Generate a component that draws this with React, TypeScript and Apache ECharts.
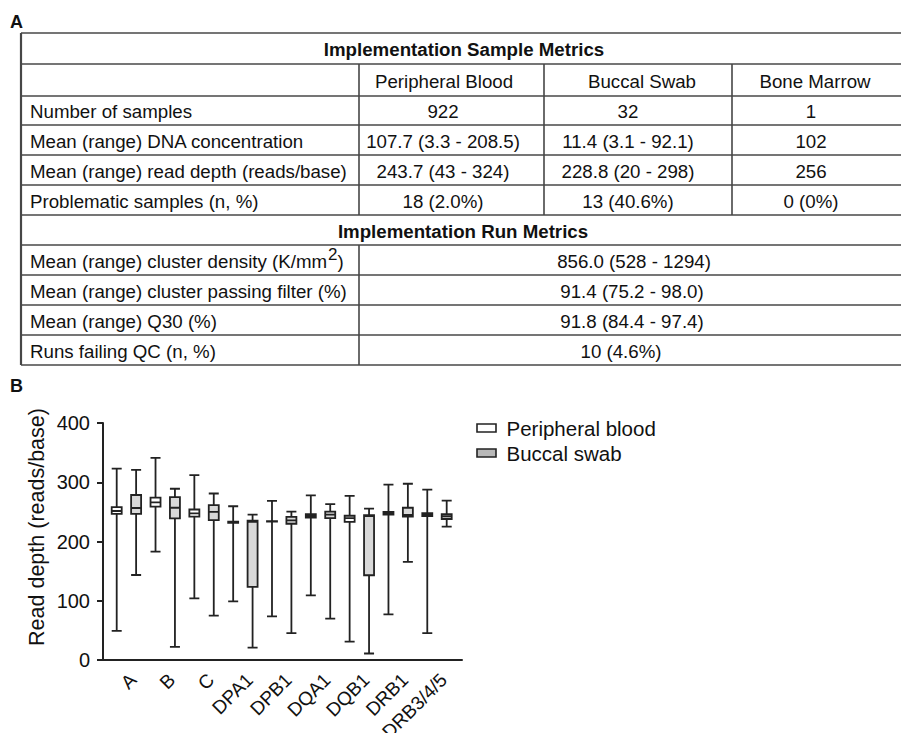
import React, { useEffect, useRef } from 'react';
import * as echarts from 'echarts';

// ---------- Data ----------
const genes = ['A', 'B', 'C', 'DPA1', 'DPB1', 'DQA1', 'DQB1', 'DRB1', 'DRB3/4/5'];
const seriesNames = ['Peripheral blood', 'Buccal swab'];
// [min, Q1, median, Q3, max]
const peripheralBlood = [
  [49, 246.5, 251.5, 258, 323],
  [183, 259, 266, 274, 341],
  [104, 242, 247.5, 254, 312],
  [99, 231.5, 232.5, 233.5, 259.5],
  [73.5, 233.5, 234, 234.5, 268.5],
  [109, 240.5, 243, 246, 278],
  [31, 233, 239.5, 243.5, 277],
  [77, 245.5, 247.5, 250, 296],
  [45.5, 243, 246, 248, 287.5],
];
const buccalSwab = [
  [143.5, 246.5, 256.5, 278.5, 321],
  [22, 239, 257, 275, 289],
  [75, 236, 250, 261.5, 281],
  [21, 123.5, 233, 235, 245.5],
  [45.5, 230, 235.5, 241.5, 250.5],
  [70, 239.5, 245.5, 250.5, 263],
  [11, 143, 243, 244.5, 255.5],
  [165.5, 242, 245, 257, 297.5],
  [225, 238, 242.5, 246, 269],
];
const yAxisTitle = 'Read depth (reads/base)';

// Table data
const sampleTitle = 'Implementation Sample Metrics';
const runTitle = 'Implementation Run Metrics';
const sampleColumns = ['Peripheral Blood', 'Buccal Swab', 'Bone Marrow'];
const sampleRowLabels = [
  'Number of samples',
  'Mean (range) DNA concentration',
  'Mean (range) read depth (reads/base)',
  'Problematic samples (n, %)',
];
const peripheralBloodValues = ['922', '107.7 (3.3 - 208.5)', '243.7 (43 - 324)', '18 (2.0%)'];
const buccalSwabValues = ['32', '11.4 (3.1 - 92.1)', '228.8 (20 - 298)', '13 (40.6%)'];
const boneMarrowValues = ['1', '102', '256', '0 (0%)'];
const runRowLabels = [
  'Mean (range) cluster density (K/mm',
  'Mean (range) cluster passing filter (%)',
  'Mean (range) Q30 (%)',
  'Runs failing QC (n, %)',
];
const runValues = ['856.0 (528 - 1294)', '91.4 (75.2 - 98.0)', '91.8 (84.4 - 97.4)', '10 (4.6%)'];

// ---------- Layout / style ----------
const FONT = '"Liberation Sans", Arial, Helvetica, sans-serif';
const INK = '#111111';
const LINE = '#474747';
const TFS = 18.7; // table font size
const rowLines = [33, 64, 96, 125, 155, 185, 215, 245, 275, 305, 335, 365];
const tableLeft = 21;
const tableRight = 901;
const col1 = 359;
const col2 = 544;
const col3 = 732;
const headerCenters = [444, 642, 815];
const valueCenters = [443, 628, 811];
const runValueCenters = [634, 632, 632, 621];

function measure(text: string, size: number) {
  const c = document.createElement('canvas').getContext('2d');
  if (!c) return text.length * size * 0.5;
  c.font = `${size}px "Liberation Sans", Arial, sans-serif`;
  return c.measureText(text).width;
}

function txt(x: number, y: number, text: string, o: any = {}) {
  const align = o.align ?? 'center';
  return {
    type: 'text',
    x,
    y,
    rotation: o.rotation ?? 0,
    silent: true,
    style: {
      text,
      fontSize: o.size ?? TFS,
      fontWeight: o.bold ? 'bold' : 'normal',
      fontFamily: FONT,
      fill: o.fill ?? INK,
      align,
      verticalAlign: 'middle',
      textAlign: align,
      textVerticalAlign: 'middle',
    },
  };
}
function line(x1: number, y1: number, x2: number, y2: number, w = 1.6) {
  return {
    type: 'line',
    silent: true,
    shape: { x1, y1, x2, y2 },
    style: { stroke: LINE, lineWidth: w },
  };
}

function buildGraphic() {
  const els: any[] = [];
  const mid = (i: number) => (rowLines[i] + rowLines[i + 1]) / 2 + 1;
  // Panel letters
  els.push(txt(10, 22, 'A', { align: 'left', bold: true, size: 18 }));
  els.push(txt(10, 386, 'B', { align: 'left', bold: true, size: 18 }));
  // Table grid lines
  rowLines.forEach((y) => els.push(line(tableLeft, y, tableRight, y)));
  els.push(line(tableLeft, rowLines[0], tableLeft, rowLines[rowLines.length - 1], 2.2));
  els.push(line(col1, rowLines[1], col1, rowLines[6]));
  els.push(line(col1, rowLines[7], col1, rowLines[11]));
  els.push(line(col2, rowLines[1], col2, rowLines[6]));
  els.push(line(col3, rowLines[1], col3, rowLines[6]));
  // Titles
  els.push(txt(464, mid(0), sampleTitle, { bold: true }));
  els.push(txt(463, mid(6), runTitle, { bold: true }));
  // Header
  sampleColumns.forEach((c, i) => els.push(txt(headerCenters[i], mid(1), c)));
  // Sample rows
  const cols = [peripheralBloodValues, buccalSwabValues, boneMarrowValues];
  sampleRowLabels.forEach((lab, r) => {
    els.push(txt(30, mid(2 + r), lab, { align: 'left' }));
    cols.forEach((vals, c) => els.push(txt(valueCenters[c], mid(2 + r), vals[r])));
  });
  // Run rows
  runRowLabels.forEach((lab, r) => {
    const y = mid(7 + r);
    els.push(txt(30, y, lab, { align: 'left' }));
    if (r === 0) {
      const w = measure(lab, TFS);
      const w2 = measure('2', 17);
      els.push(txt(30 + w + 1, y - 7, '2', { align: 'left', size: 17 }));
      els.push(txt(30 + w + 1 + w2, y, ')', { align: 'left' }));
    }
    els.push(txt(runValueCenters[r], y, runValues[r]));
  });
  // Y axis title
  els.push(txt(37, 527, yAxisTitle, { size: 21.5, rotation: Math.PI / 2 }));
  // Legend
  const legendFills = ['#ffffff', '#b8b8b8'];
  seriesNames.forEach((n, i) => {
    const y = 428 + i * 25;
    els.push({
      type: 'rect',
      silent: true,
      shape: { x: 477, y: y - 4, width: 19, height: 8 },
      style: { fill: legendFills[i], stroke: '#222', lineWidth: 1.6 },
    });
    els.push(txt(506.5, y, n, { align: 'left', size: 20.5 }));
  });
  return els;
}

function buildOption() {
  const slots = genes.flatMap((g) => [g + '|PB', g + '|BS']);
  const boxData = genes.flatMap((g, i) => [
    { name: g + '|PB', value: peripheralBlood[i], itemStyle: { color: '#ffffff' } },
    { name: g + '|BS', value: buccalSwab[i], itemStyle: { color: '#d9d9d9' } },
  ]);
  const plotTop = 423;
  const plotH = 237;
  const gridBase = { top: plotTop, height: plotH, containLabel: false, outerBoundsMode: 'none' };
  return {
    animation: false,
    backgroundColor: '#ffffff',
    grid: [
      { ...gridBase, left: 107, width: 349.4 },
      { ...gridBase, left: 107, width: 349.4 },
      { ...gridBase, left: 103, width: 359 },
    ],
    xAxis: [
      {
        gridIndex: 0,
        type: 'category',
        data: slots,
        axisLine: { show: false },
        axisTick: { show: false },
        axisLabel: { show: false },
        splitLine: { show: false },
      },
      {
        gridIndex: 1,
        type: 'category',
        data: genes,
        axisLine: { show: false },
        axisTick: { show: false },
        axisLabel: {
          interval: 0,
          rotate: 45,
          fontSize: 19,
          fontFamily: FONT,
          color: INK,
          margin: 10,
          verticalAlign: 'top',
        },
        splitLine: { show: false },
      },
      {
        gridIndex: 2,
        type: 'value',
        min: 0,
        max: 1,
        axisLine: { show: true, lineStyle: { color: '#222', width: 2 } },
        axisTick: { show: false },
        axisLabel: { show: false },
        splitLine: { show: false },
      },
    ],
    yAxis: [
      { gridIndex: 0, type: 'value', min: 0, max: 400, show: false, splitLine: { show: false } },
      { gridIndex: 1, type: 'value', min: 0, max: 400, show: false, splitLine: { show: false } },
      {
        gridIndex: 2,
        type: 'value',
        min: 0,
        max: 400,
        interval: 100,
        axisLine: { show: true, lineStyle: { color: '#222', width: 2 } },
        axisTick: { show: true, length: 6, lineStyle: { color: '#222', width: 2 } },
        axisLabel: { fontSize: 20, fontFamily: FONT, color: INK, margin: 13 },
        splitLine: { show: false },
      },
    ],
    series: [
      {
        type: 'boxplot',
        xAxisIndex: 0,
        yAxisIndex: 0,
        boxWidth: [10, 10],
        itemStyle: { borderColor: '#222', borderWidth: 1.8 },
        data: boxData,
      },
    ],
    graphic: buildGraphic(),
  };
}

export default function App() {
  const ref = useRef<HTMLDivElement>(null);
  useEffect(() => {
    if (!ref.current) return;
    const chart = echarts.init(ref.current, null, { renderer: 'svg' });
    chart.setOption(buildOption() as any);
    return () => chart.dispose();
  }, []);
  return (
    <div
      ref={ref}
      style={{ position: 'fixed', left: 0, top: 0, width: 901, height: 733, background: '#fff' }}
    />
  );
}
